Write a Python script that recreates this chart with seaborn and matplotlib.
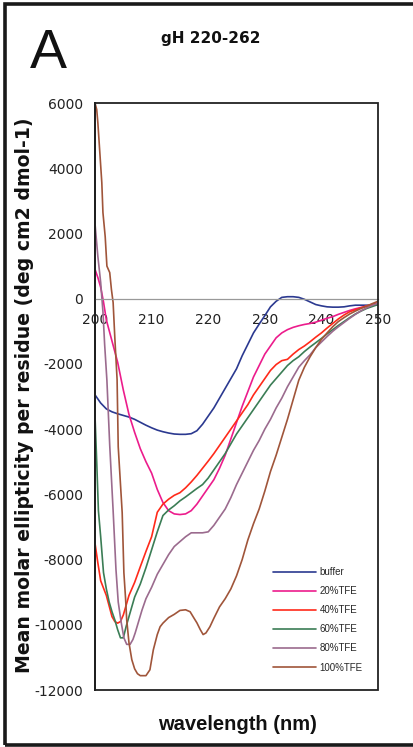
import matplotlib
matplotlib.use("Agg")
import matplotlib.pyplot as plt
from matplotlib.patches import Rectangle
import pandas as pd
import seaborn as sns

# CD spectra of gH 220-262 in buffer and increasing TFE
series_names = ["buffer", "20%TFE", "40%TFE", "60%TFE", "80%TFE", "100%TFE"]
series_colors = ["#2B3990", "#EC1C8C", "#FF2A1A", "#3B7D55", "#9B6B8E", "#A0553A"]

buffer_wl = [200, 201, 202, 203, 204, 205, 206, 207, 208, 209, 210, 211, 212, 213, 214, 215,
             216, 217, 218, 219, 220, 221, 222, 223, 224, 225, 226, 227, 228, 229, 230, 231,
             232, 233, 234, 235, 236, 237, 238, 239, 240, 241, 242, 243, 244, 245, 246, 247,
             248, 249, 250]
buffer_val = [-2950, -3200, -3380, -3470, -3530, -3580, -3630, -3700, -3790, -3880, -3960,
              -4030, -4080, -4120, -4150, -4160, -4160, -4140, -4050, -3850, -3600, -3350,
              -3050, -2750, -2450, -2150, -1750, -1400, -1050, -780, -520, -250, -80, 40, 60,
              60, 40, -20, -100, -180, -220, -250, -260, -260, -250, -220, -200, -200, -200,
              -200, -190]

tfe20_wl = [200, 200.5, 201, 201.5, 202, 203, 204, 205, 206, 207, 208, 209, 210, 211, 212,
            213, 214, 215, 216, 217, 218, 219, 220, 221, 222, 223, 224, 225, 226, 227, 228,
            229, 230, 231, 232, 233, 234, 235, 236, 237, 238, 239, 240, 241, 242, 243, 244,
            245, 246, 247, 248, 249, 250]
tfe20_val = [900, 650, 350, -100, -650, -1300, -1950, -2800, -3550, -4100, -4600, -5000,
             -5350, -5850, -6250, -6500, -6600, -6620, -6600, -6500, -6300, -6050, -5800,
             -5550, -5200, -4800, -4300, -3800, -3300, -2850, -2400, -2050, -1700, -1450,
             -1200, -1050, -950, -880, -830, -790, -760, -720, -660, -600, -550, -480, -420,
             -360, -310, -270, -230, -200, -170]

tfe40_wl = [200, 200.5, 201, 202, 203, 203.5, 204, 204.5, 205, 206, 207, 208, 209, 210, 211,
            212, 213, 214, 215, 216, 217, 218, 219, 220, 221, 222, 223, 224, 225, 226, 227,
            228, 229, 230, 231, 232, 233, 234, 235, 236, 237, 238, 239, 240, 241, 242, 243,
            244, 245, 246, 247, 248, 249, 250]
tfe40_val = [-7500, -8100, -8650, -9100, -9750, -9900, -9950, -9900, -9700, -9100, -8700,
             -8220, -7750, -7300, -6550, -6300, -6150, -6030, -5950, -5800, -5620, -5420,
             -5200, -4980, -4750, -4500, -4250, -4000, -3750, -3500, -3250, -2950, -2700,
             -2450, -2200, -2020, -1900, -1860, -1700, -1560, -1450, -1320, -1180, -1050,
             -900, -760, -620, -500, -400, -340, -280, -220, -170, -130]

tfe60_wl = [200, 200.3, 200.6, 201, 201.5, 202, 202.5, 203, 203.5, 204, 204.5, 205, 205.5,
            206, 207, 208, 209, 210, 211, 212, 213, 214, 215, 216, 217, 218, 219, 220, 221,
            222, 223, 224, 225, 226, 227, 228, 229, 230, 231, 232, 233, 234, 235, 236, 237,
            238, 239, 240, 241, 242, 243, 244, 245, 246, 247, 248, 249, 250]
tfe60_val = [-3600, -5000, -6500, -7300, -8400, -8900, -9300, -9600, -9850, -10150, -10400,
             -10400, -10050, -9750, -9150, -8750, -8250, -7700, -7150, -6650, -6480, -6350,
             -6200, -6080, -5950, -5820, -5700, -5500, -5250, -5000, -4750, -4450, -4150,
             -3900, -3650, -3400, -3150, -2900, -2650, -2450, -2250, -2050, -1900, -1780,
             -1620, -1480, -1350, -1220, -1080, -950, -820, -700, -580, -470, -380, -300,
             -240, -180]

tfe80_wl = [200, 200.5, 201, 201.4, 201.7, 202.1, 202.6, 203.2, 203.7, 204.1, 204.6, 205.1,
            205.6, 206.2, 206.7, 207.1, 207.7, 208.3, 209, 210, 211, 212, 213, 214, 215, 216,
            217, 218, 219, 220, 221, 222, 223, 224, 225, 226, 227, 228, 229, 230, 231, 232,
            233, 234, 235, 236, 237, 238, 239, 240, 241, 242, 243, 244, 245, 246, 247, 248,
            249, 250]
tfe80_val = [2300, 1300, 500, -400, -1400, -2500, -4500, -6500, -8300, -9300, -9900, -10400,
             -10600, -10600, -10450, -10250, -9900, -9550, -9200, -8850, -8450, -8150, -7850,
             -7600, -7450, -7300, -7180, -7180, -7180, -7150, -6950, -6700, -6450, -6100,
             -5700, -5350, -5000, -4650, -4350, -4000, -3700, -3350, -3050, -2700, -2400,
             -2100, -1900, -1720, -1500, -1330, -1160, -1000, -860, -730, -600, -480, -370,
             -280, -200, -140]

tfe100_wl = [200, 200.3, 200.5, 200.9, 201.2, 201.4, 201.8, 202.1, 202.6, 202.9, 203.2,
             203.5, 203.9, 204.1, 204.8, 205.1, 205.4, 205.6, 206, 206.5, 207, 207.5, 208,
             209, 209.7, 210.3, 211, 211.5, 212, 213, 214, 215, 216, 216.8, 217.5, 218,
             218.6, 219.1, 219.6, 220.3, 221, 222, 223, 224, 225, 226, 227, 228, 229, 230,
             231, 232, 233, 234, 235, 236, 237, 238, 239, 240, 241, 242, 243, 244, 245, 246,
             247, 248, 249, 250]
tfe100_val = [6000, 5800, 5400, 4350, 3560, 2640, 1900, 1000, 800, 280, -120, -1200, -2480,
              -4540, -6560, -8400, -9200, -9850, -10550, -11070, -11350, -11500, -11560,
              -11560, -11380, -10770, -10300, -10060, -9950, -9780, -9680, -9560, -9540,
              -9600, -9800, -9940, -10150, -10300, -10250, -10060, -9800, -9450, -9200,
              -8900, -8500, -8000, -7400, -6900, -6450, -5900, -5300, -4800, -4250, -3700,
              -3100, -2500, -2100, -1780, -1500, -1250, -1050, -860, -700, -580, -470, -380,
              -300, -230, -150, -80]

x_ticks = [200, 210, 220, 230, 240, 250]
y_ticks = [-12000, -10000, -8000, -6000, -4000, -2000, 0, 2000, 4000, 6000]

wavelengths = [buffer_wl, tfe20_wl, tfe40_wl, tfe60_wl, tfe80_wl, tfe100_wl]
values = [buffer_val, tfe20_val, tfe40_val, tfe60_val, tfe80_val, tfe100_val]

frames = [pd.DataFrame({"wavelength": wl, "ellipticity": val, "sample": name})
          for name, wl, val in zip(series_names, wavelengths, values)]
df = pd.concat(frames, ignore_index=True)
palette = dict(zip(series_names, series_colors))

sns.set_style("white")
plt.rcParams["font.family"] = ["Liberation Sans", "DejaVu Sans"]
plt.rcParams["axes.unicode_minus"] = False
wide = ["DejaVu Sans"]

fig = plt.figure(figsize=(4.14, 7.47), dpi=100)
ax = fig.add_axes([0.2295, 0.0763, 0.6836, 0.7858])

sns.lineplot(data=df, x="wavelength", y="ellipticity", hue="sample",
             hue_order=series_names, palette=palette, estimator=None, sort=False,
             linewidth=1.2, ax=ax)

ax.set_xlim(200, 250)
ax.set_ylim(-12000, 6000)
ax.set_xticks(x_ticks)
ax.set_yticks(y_ticks)
ax.set_xlabel("")
ax.set_ylabel("")

# x axis drawn along zero, plot area boxed
for side in ("top", "right"):
    ax.spines[side].set_visible(False)
ax.spines["bottom"].set_position(("data", 0))
ax.spines["bottom"].set_color("#999999")
ax.spines["bottom"].set_linewidth(0.9)
ax.spines["left"].set_color("#111111")
ax.spines["left"].set_linewidth(1.4)
ax.add_patch(Rectangle((0, 0), 1, 1, transform=ax.transAxes, fill=False,
                       ec="#222222", lw=1.3, clip_on=False, zorder=4))

ax.tick_params(axis="x", direction="out", length=3, width=0.8, color="#999999",
               labelsize=10, pad=7, labelcolor="#222222")
ax.tick_params(axis="y", direction="out", length=3, width=0.8, color="#333333",
               labelsize=10, pad=5.5, labelcolor="#222222")
for lbl in ax.get_xticklabels() + ax.get_yticklabels():
    lbl.set_family(wide)

handles, labels = ax.get_legend_handles_labels()
for h in handles:
    h.set_linewidth(1.2)
ax.legend(handles, labels, loc="upper left", bbox_to_anchor=(0.629, 0.209),
          frameon=False, fontsize=7, handlelength=4.4, handletextpad=0.4,
          labelspacing=0.93, borderpad=0, borderaxespad=0)

fig.text(0.116, 0.909, "A", fontsize=40, ha="center", va="baseline", color="#111111")
fig.text(0.5097, 0.9418, "gH 220-262", fontsize=11, fontweight="bold", family=wide,
         ha="center", va="baseline", color="#111111")
fig.text(0.5725, 0.0228, "wavelength (nm)", fontsize=14.5, fontweight="bold",
         ha="center", va="baseline", color="#111111")
fig.text(0.0725, 0.4712, "Mean molar ellipticity per residue (deg cm2 dmol-1)",
         fontsize=13.6, fontweight="bold", family=wide, rotation=90, rotation_mode="anchor",
         ha="center", va="baseline", color="#111111")

# outer frame of the panel (open on the right)
fig.patches.append(Rectangle((4.7 / 414, 1 - 744.5 / 747), (420 - 4.7) / 414,
                             (744.5 - 4) / 747, transform=fig.transFigure, fill=False,
                             ec="#1a1a1a", lw=2.6))

fig.savefig("out.png", dpi=100)
